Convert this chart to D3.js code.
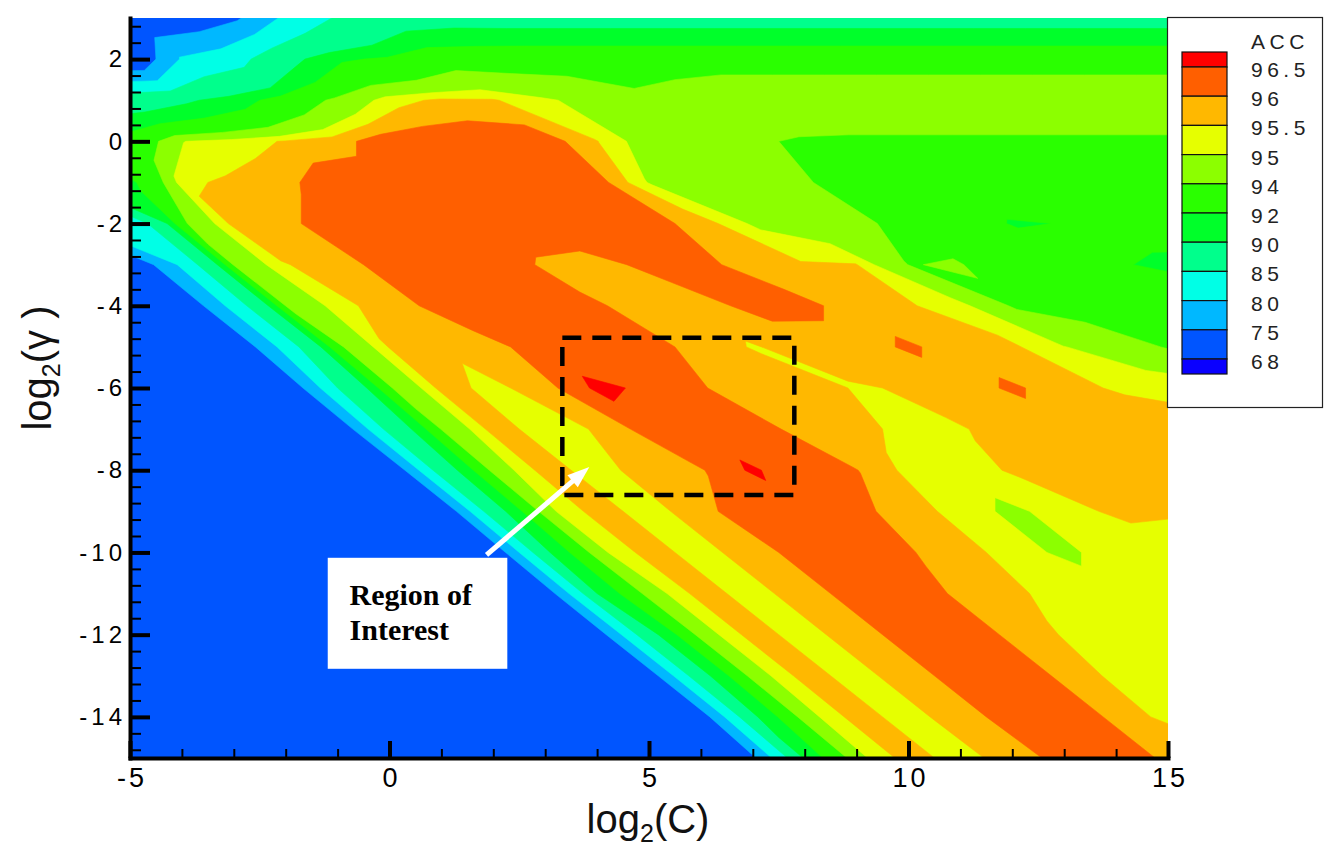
<!DOCTYPE html>
<html>
<head>
<meta charset="utf-8">
<script src="https://cdn.jsdelivr.net/npm/d3@7"></script>
<style>
  body { margin: 0; background: #fff; }
  svg { display: block; font-family: "Liberation Sans", Arial, sans-serif; }
</style>
</head>
<body>
<svg id="chart" width="1336" height="848"></svg>
<script>
// grid positions
var log2C = [-5, -4, -3, -2, -1, 0, 1, 2, 3, 4, 5, 6, 7, 8, 9, 10, 11, 12, 13, 14, 15];
var log2Gamma = [3, 2, 1, 0, -1, -2, -3, -4, -5, -6, -7, -8, -9, -10, -11, -12, -13, -14, -15];

// accuracy (%), one row per log2(gamma), log2(C) = -5 .. 15
var accG3   = [70, 71, 74, 81, 85.5, 88.4, 88.9, 88.8, 88.8, 88.8, 88.8, 88.8, 88.8, 88.8, 88.8, 88.8, 88.8, 88.8, 88.8, 88.8, 88.8];
var accG2   = [69.5, 80.5, 83, 89, 91.7, 92.3, 93.4, 93.4, 93.5, 93.5, 93.5, 93.5, 93.5, 93.5, 93.5, 93.5, 93.5, 93.5, 93.5, 93.5, 93.5];
var accG1   = [88, 89.5, 91, 93, 94.3, 95.3, 95.6, 95.55, 95.1, 94.7, 94.2, 94.5, 94.8, 94.8, 94.8, 94.8, 94.8, 94.8, 94.8, 94.8, 94.8];
var accG0   = [92.8, 94.98, 95.25, 95.55, 95.8, 96.35, 96.4, 96.4, 96.3, 95.52, 94.6, 94.4, 94.1, 93.9, 93.85, 93.85, 93.85, 93.85, 93.85, 93.85, 93.85];
var accGm1  = [91.5, 95.4, 95.6, 95.85, 96.4, 96.35, 96.4, 96.45, 96.45, 96.3, 94.95, 94.7, 94.35, 94.1, 93.5, 93.3, 93.3, 93.3, 93.2, 93.2, 93.2];
var accGm2  = [80.5, 93.8, 95.7, 95.85, 96.35, 96.35, 96.4, 96.45, 96.4, 96.2, 96.2, 95.8, 94.9, 94.5, 94.2, 93.7, 93.2, 91.85, 92.05, 92.7, 92.6];
var accGm3  = [70, 81, 94.2, 95.48, 95.7, 96.3, 96.35, 96.4, 95.9, 95.8, 96.15, 96.2, 95.7, 95.55, 95.52, 93.98, 94.05, 93.3, 93.2, 92.15, 91.7];
var accGm4  = [70, 70, 82, 94.05, 95.3, 95.8, 96.15, 96.35, 96.3, 96.05, 95.8, 95.8, 96.15, 96.2, 95.65, 95.55, 95.25, 93.9, 93.6, 93.5, 93.0];
var accGm5  = [71, 71, 70, 82, 93.8, 95.55, 95.6, 95.9, 96.2, 96.38, 96.15, 95.85, 95.45, 95.75, 95.65, 96.12, 95.65, 95.6, 95.02, 94.6, 93.9];
var accGm6  = [71, 71, 71, 70, 85, 93.9, 95.7, 95.35, 95.8, 96.62, 96.4, 96.03, 95.8, 95.75, 95.45, 95.55, 95.65, 96.12, 95.65, 95.45, 95.3];
var accGm7  = [71, 71, 71, 71, 70, 87, 94.1, 95.75, 95.25, 95.55, 96.25, 96.2, 96.3, 95.75, 95.7, 95.3, 95.48, 95.6, 95.65, 95.8, 95.75];
var accGm8  = [71, 71, 71, 71, 71, 69.5, 88, 94.5, 95.75, 95.25, 95.8, 95.95, 96.6, 96.0, 96.02, 95.35, 95.3, 95.55, 95.55, 95.7, 95.75];
var accGm9  = [71, 71, 71, 71, 71, 71, 69.5, 88.5, 94.8, 95.75, 95.25, 95.85, 96.3, 96.2, 96.15, 95.75, 95.3, 94.85, 95.3, 95.6, 95.55];
var accGm10 = [71, 71, 71, 71, 71, 71, 71, 70.5, 89.5, 94.8, 95.75, 95.25, 95.85, 96.15, 96.3, 96.05, 95.7, 95.3, 94.85, 95.3, 95.25];
var accGm11 = [71, 71, 71, 71, 71, 71, 71, 71, 71.5, 90, 94.6, 95.75, 95.25, 95.85, 96.15, 96.3, 95.9, 95.6, 95.3, 95.3, 95.25];
var accGm12 = [71, 71, 71, 71, 71, 71, 71, 71, 71, 72, 89, 94.6, 95.75, 95.25, 95.85, 96.15, 96.3, 95.9, 95.45, 95.3, 95.3];
var accGm13 = [71, 71, 71, 71, 71, 71, 71, 71, 71, 71, 72, 89, 94.6, 95.75, 95.25, 95.85, 96.15, 96.3, 95.9, 95.35, 95.3];
var accGm14 = [71, 71, 71, 71, 71, 71, 71, 71, 71, 71, 71, 72, 89.5, 94.7, 95.75, 95.25, 95.85, 96.15, 96.3, 95.9, 95.3];
var accGm15 = [71, 71, 71, 71, 71, 71, 71, 71, 71, 71, 71, 71, 74, 90.5, 94.8, 95.75, 95.25, 95.8, 96.15, 96.3, 95.9];

// contour levels and fill for values >= each level
var levels = [68, 75, 80, 85, 90, 92, 94, 95, 95.5, 96, 96.5];
var levelColors = ["#0055ff", "#00b8ff", "#00ffe6", "#00ff8c", "#00ff2a", "#2aff00",
                   "#8cff00", "#e6ff00", "#ffb800", "#ff5f00", "#ff0000"];
var belowColor = "#0a00ff";

var xMajor = [-5, 0, 5, 10, 15];
var yMajor = [2, 0, -2, -4, -6, -8, -10, -12, -14];

var accRows = [accG3, accG2, accG1, accG0, accGm1, accGm2, accGm3, accGm4, accGm5, accGm6,
               accGm7, accGm8, accGm9, accGm10, accGm11, accGm12, accGm13, accGm14, accGm15];

var svg = d3.select("#chart");
var x = d3.scaleLinear().domain([-5, 15]).range([130, 1168]);
var y = d3.scaleLinear().domain([-15, 3]).range([758, 18]);

svg.append("defs").append("clipPath").attr("id", "plotclip")
  .append("rect")
  .attr("x", x(-5)).attr("y", y(3))
  .attr("width", x(15) - x(-5)).attr("height", y(-15) - y(3));

// The stripes run along log2C + log2gamma = const, so the rows are laid out
// sheared for the contour generator: equal C*gamma share a column and thin
// diagonal ridges stay connected. Cells left/right of the data only repeat the
// edge value and are clipped away.
var nx = log2C.length, ny = log2Gamma.length;
var W = nx + ny - 1;
var grid = new Array(W * ny);
accRows.forEach(function(row, j) {
  var off = ny - 1 - j;
  for (var k = 0; k < W; k++) {
    var i = Math.max(0, Math.min(nx - 1, k - off));
    grid[j * W + k] = row[i];
  }
});
var bands = d3.contours().size([W, ny]).thresholds(levels)(grid);

var colToC = d3.scaleLinear().domain([0, nx - 1]).range([log2C[0], log2C[nx - 1]]);
var rowToG = d3.scaleLinear().domain([0, ny - 1]).range([log2Gamma[0], log2Gamma[ny - 1]]);
var toScreen = d3.geoTransform({
  point: function(px, py) {
    var j = py - 0.5;
    var i = (px - 0.5) - (ny - 1 - j);
    this.stream.point(x(colToC(i)), y(rowToG(j)));
  }
});
var path = d3.geoPath(toScreen);

var plot = svg.append("g").attr("clip-path", "url(#plotclip)");
plot.append("rect")
  .attr("x", x(-5)).attr("y", y(3))
  .attr("width", x(15) - x(-5)).attr("height", y(-15) - y(3))
  .attr("fill", belowColor);
plot.selectAll("path.band")
  .data(bands)
  .enter().append("path")
  .attr("class", "band")
  .attr("d", path)
  .attr("fill", function(d, i) { return levelColors[i]; })
  .attr("stroke", function(d, i) { return levelColors[i]; })
  .attr("stroke-width", 0.6);

// region of interest
var roi = { c0: 3.33, c1: 7.8, g0: -4.78, g1: -8.6 };
svg.append("rect")
  .attr("x", x(roi.c0)).attr("y", y(roi.g0))
  .attr("width", x(roi.c1) - x(roi.c0)).attr("height", y(roi.g1) - y(roi.g0))
  .attr("fill", "none").attr("stroke", "#000")
  .attr("stroke-width", 4.5).attr("stroke-dasharray", "19,11");

// arrow from the note to the box
var tail = [x(1.87), y(-10.06)], tip = [x(3.85), y(-7.92)];
var dx = tip[0] - tail[0], dy = tip[1] - tail[1];
var len = Math.sqrt(dx * dx + dy * dy);
var ux = dx / len, uy = dy / len;
var headLen = 22, headHalf = 8;
var base = [tip[0] - ux * headLen, tip[1] - uy * headLen];
svg.append("line")
  .attr("x1", tail[0]).attr("y1", tail[1])
  .attr("x2", base[0] + ux * 2).attr("y2", base[1] + uy * 2)
  .attr("stroke", "#fff").attr("stroke-width", 5);
svg.append("polygon")
  .attr("points", [tip, [base[0] - uy * headHalf, base[1] + ux * headHalf],
                   [base[0] + uy * headHalf, base[1] - ux * headHalf]].map(function(p) { return p.join(","); }).join(" "))
  .attr("fill", "#fff");

var note = svg.append("g");
note.append("rect")
  .attr("x", x(-1.19)).attr("y", y(-10.13))
  .attr("width", x(2.27) - x(-1.19)).attr("height", y(-12.83) - y(-10.13))
  .attr("fill", "#fff");
note.selectAll("text")
  .data(["Region of", "Interest"])
  .enter().append("text")
  .attr("x", x(-0.77))
  .attr("y", function(d, i) { return y(-11.27) + i * 35; })
  .attr("font-family", "'Liberation Serif', 'Times New Roman', serif")
  .attr("font-weight", "bold")
  .attr("font-size", 30)
  .attr("fill", "#000")
  .text(function(d) { return d; });

// axes
var yMinor = d3.range(-14.8, 3, 0.4).filter(function(v) { return Math.abs(v / 2 - Math.round(v / 2)) > 0.01; });
var xMinor = d3.range(-5, 15.5, 1).filter(function(v) { return v % 5 !== 0; });

var gyMinor = svg.append("g").attr("transform", "translate(" + x(-5) + ",0)")
  .call(d3.axisLeft(y).tickValues(yMinor).tickSize(-11).tickSizeOuter(0).tickFormat(""));
gyMinor.select(".domain").remove();
gyMinor.selectAll(".tick line").attr("stroke", "#000").attr("stroke-width", 2);

var gxMinor = svg.append("g").attr("transform", "translate(0," + y(-15) + ")")
  .call(d3.axisBottom(x).tickValues(xMinor).tickSize(-9).tickSizeOuter(0).tickFormat(""));
gxMinor.select(".domain").remove();
gxMinor.selectAll(".tick line").attr("stroke", "#000").attr("stroke-width", 2);

var gy = svg.append("g").attr("transform", "translate(" + x(-5) + ",0)")
  .call(d3.axisLeft(y).tickValues(yMajor).tickSize(-20).tickPadding(4).tickSizeOuter(0)
        .tickFormat(function(d) { return String(d); }));
var gx = svg.append("g").attr("transform", "translate(0," + y(-15) + ")")
  .call(d3.axisBottom(x).tickValues(xMajor).tickSize(-17).tickPadding(10).tickSizeOuter(0)
        .tickFormat(function(d) { return String(d); }));

[gy, gx].forEach(function(g) {
  g.attr("font-family", null).attr("font-size", null);
  g.select(".domain").attr("stroke", "#000").attr("stroke-width", 4).attr("stroke-linecap", "square");
  g.selectAll(".tick line").attr("stroke", "#000").attr("stroke-width", 4);
  g.selectAll(".tick text")
    .attr("fill", "#000")
    .attr("font-size", 24)
    .attr("letter-spacing", 4);
});
gx.selectAll(".tick text").attr("font-size", 27).attr("letter-spacing", 3).attr("dx", 1.5);

// axis titles
var xt = svg.append("text")
  .attr("x", 648).attr("y", 833)
  .attr("text-anchor", "middle")
  .attr("font-size", 40).attr("fill", "#111");
xt.append("tspan").text("log");
xt.append("tspan").attr("font-size", 25).attr("dy", 9).text("2");
xt.append("tspan").attr("dy", -9).text("(C)");

var yt = svg.append("text")
  .attr("transform", "translate(51,368) rotate(-90)")
  .attr("text-anchor", "middle")
  .attr("font-size", 40).attr("fill", "#111");
yt.append("tspan").text("log");
yt.append("tspan").attr("font-size", 25).attr("dy", 9).text("2");
yt.append("tspan").attr("dy", -9).text("(\u03b3 )");

// legend
var legend = svg.append("g");
legend.append("rect")
  .attr("x", 1167.5).attr("y", 17.5).attr("width", 155).attr("height", 390)
  .attr("fill", "#fff").attr("stroke", "#222").attr("stroke-width", 1.2);
legend.append("text")
  .attr("x", 1251).attr("y", 49)
  .attr("font-size", 21).attr("letter-spacing", 4.5).attr("fill", "#222")
  .text("ACC");

var swTop = 52, swEnd = 15, swH = 29.2;
var swatchColors = levelColors.slice().reverse().concat([belowColor]);
var swY = function(k) { return k === 0 ? swTop : swTop + swEnd + (k - 1) * swH; };
var swHt = function(k) { return (k === 0 || k === swatchColors.length - 1) ? swEnd : swH; };
legend.selectAll("rect.sw")
  .data(swatchColors)
  .enter().append("rect")
  .attr("class", "sw")
  .attr("x", 1182).attr("width", 45)
  .attr("y", function(d, k) { return swY(k); })
  .attr("height", function(d, k) { return swHt(k); })
  .attr("fill", function(d) { return d; })
  .attr("stroke", "#111").attr("stroke-width", 1.2);

var legendLabels = levels.slice().reverse();
legend.selectAll("text.lab")
  .data(legendLabels)
  .enter().append("text")
  .attr("class", "lab")
  .attr("x", 1251)
  .attr("y", function(d, k) { return swY(k + 1) + 10; })
  .attr("font-size", 21).attr("letter-spacing", 4.5).attr("fill", "#222")
  .text(function(d) { return String(d); });
</script>
</body>
</html>
